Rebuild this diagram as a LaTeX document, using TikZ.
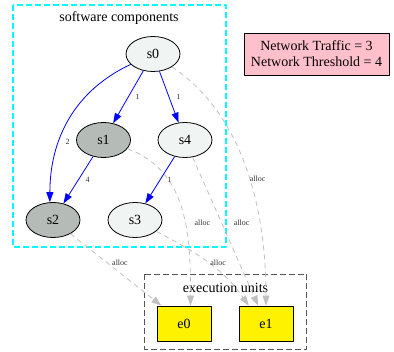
\documentclass[tikz,border=0pt]{standalone}
\usepackage{fontspec}
\setmainfont{Liberation Serif}
\usetikzlibrary{arrows.meta, shapes.geometric, positioning}
\usepackage{xcolor}
\definecolor{palecomp}{RGB}{240,244,242}
\definecolor{greycomp}{RGB}{181,187,182}
\definecolor{allocgrey}{RGB}{192,192,192}
\definecolor{trafficpink}{RGB}{255,192,203}
\definecolor{unitdash}{RGB}{85,85,85}
\definecolor{swcyan}{RGB}{0,255,255}
\tikzset{palecompnode/.style={ellipse, fill=palecomp, draw=black, line width=0.8pt, minimum width=54pt, minimum height=35pt, inner sep=0pt, font=\fontsize{14}{16}\selectfont},greycompnode/.style={palecompnode, fill=greycomp}}
\tikzset{unitnode/.style={rectangle, fill=yellow, draw=black, line width=0.8pt, minimum width=54pt, minimum height=35pt, inner sep=0pt, font=\fontsize{14}{16}\selectfont},trafficnode/.style={rectangle, fill=trafficpink, draw=black, line width=0.8pt, minimum width=145pt, minimum height=42pt, inner sep=0pt, align=center, font=\fontsize{14}{16}\selectfont}}
\tikzset{flowedge/.style={blue, line width=0.8pt, -{Triangle[length=10pt, width=7pt]}},allocedge/.style={allocgrey, line width=0.8pt, dash pattern=on 5pt off 4pt, -{Triangle[length=10pt, width=7pt]}},edgelabel/.style={font=\fontsize{8}{9}\selectfont, text=black!80, inner sep=1pt}}

\begin{document}
\begin{tikzpicture}[
        line join=bevel,
        clustertitle/.style={font=\fontsize{14}{16}\selectfont, inner sep=0pt},
    ]
        \useasboundingbox (0pt, 0pt) rectangle (394pt, -352pt);
        % Clusters
        \draw[swcyan, line width=1.3pt, dash pattern=on 6pt off 3pt] (13pt, -5pt) rectangle (226pt, -247pt);
        \node[clustertitle] (swtitle) at (119pt, -18pt) {software components};
        \draw[unitdash, line width=1pt, dash pattern=on 6pt off 3pt] (144.5pt, -274.5pt) rectangle (306.5pt, -349.5pt);
        \node[clustertitle] (eutitle) at (225.5pt, -288pt) {execution units};
        % Nodes
        \node[palecompnode] (s0) at (153pt, -54pt) {s0};
        \node[greycompnode] (s1) at (103.5pt, -140pt) {s1};
        \node[palecompnode] (s4) at (185pt, -140pt) {s4};
        \node[greycompnode] (s2) at (53pt, -220pt) {s2};
        \node[palecompnode] (s3) at (135pt, -220pt) {s3};
        \node[unitnode] (e0) at (184pt, -323.5pt) {e0};
        \node[unitnode] (e1) at (266pt, -323.5pt) {e1};
        \node[trafficnode] (traffic) at (316.5pt, -54pt) {Network Traffic = 3\\Network Threshold = 4};
        % Allocation edges
        \draw[allocedge] (s0) to[out=-34, in=90, looseness=0.9] node[edgelabel, pos=0.53, right=-1pt] {alloc} (e1.north);
        \draw[allocedge] (s1) to[out=-20, in=90] node[edgelabel, pos=0.57, right=8pt] {alloc} (e0.70);
        \draw[allocedge] (s4) -- node[edgelabel, pos=0.44, right=11pt] {alloc} (e1);
        \draw[allocedge] (s3) to[out=-28, in=125] node[edgelabel, pos=0.5, right=1pt] {alloc} (e1.134);
        \draw[allocedge] (s2) -- node[edgelabel, pos=0.4, right=4pt] {alloc} (e0);
        % Flow edges
        \draw[flowedge] (s0) -- node[edgelabel, pos=0.5, right=6pt] {1} (s1);
        \draw[flowedge] (s0) -- node[edgelabel, pos=0.5, right=6pt] {1} (s4);
        \draw[flowedge] (s0) to[out=205, in=90] node[edgelabel, pos=0.65, right=5pt] {2} (s2.100);
        \draw[flowedge] (s1) -- node[edgelabel, pos=0.5, right=6pt] {4} (s2);
        \draw[flowedge] (s4) -- node[edgelabel, pos=0.5, right=6pt] {1} (s3);
    \end{tikzpicture}
\end{document}
